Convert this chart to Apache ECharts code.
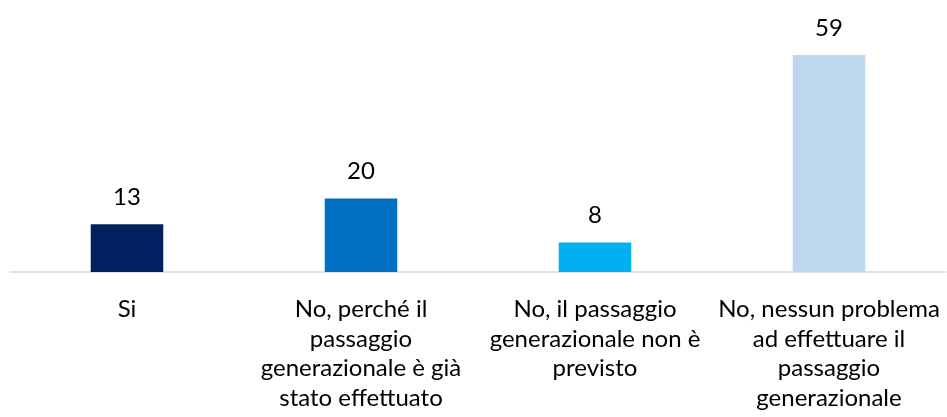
<!DOCTYPE html>
<html>
<head>
<meta charset="utf-8">
<script src="https://cdn.jsdelivr.net/npm/echarts@6/dist/echarts.min.js"></script>
<style>
  html, body { margin: 0; padding: 0; background: #fff; }
  #chart { width: 947px; height: 417px; }
</style>
</head>
<body>
<div id="chart"></div>
<script>
// categorie e valori
const categories = [
  'Si',
  'No, perché il\npassaggio\ngenerazionale è già\nstato effettuato',
  'No, il passaggio\ngenerazionale non è\nprevisto',
  'No, nessun problema\nad effettuare il\npassaggio\ngenerazionale'
];
const values = [13, 20, 8, 59];
const barColors = ['#002060', '#0070C0', '#00B0F0', '#BDD7EE'];

const chart = echarts.init(document.getElementById('chart'));

const option = {
  animation: false,
  grid: {
    left: 10,
    right: 1,
    top: 55,
    bottom: 145
  },
  xAxis: {
    type: 'category',
    data: categories,
    axisLine: { lineStyle: { color: '#D9D9D9', width: 1.5 } },
    axisTick: { show: false },
    axisLabel: {
      interval: 0,
      margin: 23,
      fontFamily: 'Lato',
      fontSize: 24,
      lineHeight: 29.5,
      color: '#000'
    }
  },
  yAxis: {
    type: 'value',
    min: 0,
    max: 59,
    show: false
  },
  series: [
    {
      type: 'bar',
      barWidth: '31%',
      data: values.map((v, i) => ({ value: v, itemStyle: { color: barColors[i] } })),
      label: {
        show: true,
        position: 'top',
        distance: 15,
        fontFamily: 'Lato',
        fontSize: 24,
        color: '#000'
      }
    }
  ]
};

chart.setOption(option);
</script>
</body>
</html>
